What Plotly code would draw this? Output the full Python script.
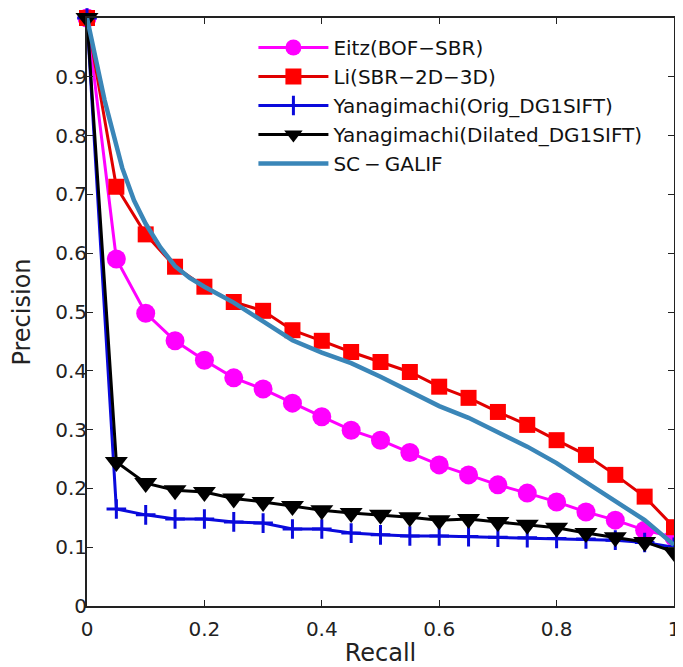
import plotly.graph_objects as go

recall = [0.0, 0.05, 0.1, 0.15, 0.2, 0.25, 0.3, 0.35, 0.4, 0.45, 0.5,
          0.55, 0.6, 0.65, 0.7, 0.75, 0.8, 0.85, 0.9, 0.95, 1.0]

eitz = [1.0, 0.590, 0.498, 0.451, 0.418, 0.388, 0.369, 0.345, 0.322, 0.299, 0.282,
        0.261, 0.240, 0.223, 0.206, 0.192, 0.177, 0.160, 0.146, 0.129, 0.117]

li = [1.0, 0.713, 0.632, 0.577, 0.543, 0.517, 0.502, 0.469, 0.451, 0.432, 0.415,
      0.398, 0.373, 0.354, 0.330, 0.308, 0.282, 0.257, 0.223, 0.186, 0.134]

yana_orig = [1.0, 0.165, 0.155, 0.148, 0.148, 0.143, 0.141, 0.131, 0.131, 0.124, 0.121,
             0.119, 0.119, 0.118, 0.117, 0.116, 0.115, 0.114, 0.112, 0.108, 0.100]

yana_dil = [1.0, 0.245, 0.209, 0.197, 0.194, 0.183, 0.177, 0.170, 0.163, 0.158, 0.155,
            0.151, 0.146, 0.148, 0.143, 0.138, 0.133, 0.124, 0.117, 0.109, 0.092]

sc_recall = [0.0, 0.03, 0.06, 0.08, 0.1, 0.125, 0.15, 0.175, 0.2, 0.25, 0.3, 0.35, 0.4, 0.45, 0.5,
             0.55, 0.6, 0.65, 0.7, 0.75, 0.8, 0.85, 0.9, 0.95, 1.0]
sc_galif = [1.0, 0.86, 0.745, 0.690, 0.650, 0.610, 0.578, 0.558, 0.543, 0.516, 0.484, 0.452,
            0.431, 0.413, 0.390, 0.366, 0.340, 0.320, 0.296, 0.271, 0.243, 0.211, 0.180, 0.146, 0.104]

x_ticks = [0, 0.2, 0.4, 0.6, 0.8, 1]
x_tick_labels = ["0", "0.2", "0.4", "0.6", "0.8", "1"]
y_ticks = [0, 0.1, 0.2, 0.3, 0.4, 0.5, 0.6, 0.7, 0.8, 0.9]
y_tick_labels = ["0", "0.1", "0.2", "0.3", "0.4", "0.5", "0.6", "0.7", "0.8", "0.9"]

FONT = "DejaVu Sans, Liberation Sans, Arial, sans-serif"

fig = go.Figure()
fig.add_trace(go.Scatter(
    x=recall, y=eitz, name="Eitz(BOF\u2212SBR)", mode="lines+markers", cliponaxis=False,
    line=dict(color="#ff00ff", width=3),
    marker=dict(symbol="circle", size=19, color="#ff00ff")))
fig.add_trace(go.Scatter(
    x=recall, y=li, name="Li(SBR\u22122D\u22123D)", mode="lines+markers", cliponaxis=False,
    line=dict(color="#e00000", width=3),
    marker=dict(symbol="square", size=16, color="#ff0000")))
fig.add_trace(go.Scatter(
    x=recall, y=yana_orig, name="Yanagimachi(Orig_DG1SIFT)", mode="lines+markers", cliponaxis=False,
    line=dict(color="#0a0adc", width=3),
    marker=dict(symbol="cross-thin", size=14, color="#0a0adc",
                line=dict(color="#0a0adc", width=3))))
fig.add_trace(go.Scatter(
    x=recall, y=yana_dil, name="Yanagimachi(Dilated_DG1SIFT)", mode="lines+markers", cliponaxis=False,
    line=dict(color="#000000", width=3),
    marker=dict(symbol="triangle-down", size=20, color="#000000")))
fig.add_trace(go.Scatter(
    x=sc_recall, y=sc_galif, name="SC\u2009\u2212\u2009GALIF", mode="lines", cliponaxis=False,
    line=dict(color="#3a86b8", width=4.5)))

fig.update_layout(
    width=675, height=659,
    margin=dict(l=79, r=9, t=10, b=61),
    paper_bgcolor="white", plot_bgcolor="white",
    font=dict(family=FONT, color="#222222", size=20),
    showlegend=True,
    legend=dict(x=0.2835, y=0.983, xanchor="left", yanchor="top",
                bgcolor="rgba(0,0,0,0)", borderwidth=0,
                font=dict(family=FONT, size=20, color="#111111"),
                itemwidth=70, tracegroupgap=0),
    xaxis=dict(range=[0, 1], tickvals=x_ticks, ticktext=x_tick_labels,
               ticks="inside", ticklen=6, tickwidth=1, tickcolor="#222222",
               showline=True, linecolor="#222222", linewidth=2, mirror="ticks",
               showgrid=False, zeroline=False, ticklabeloverflow="allow",
               ticklabelstandoff=4, automargin=False,
               title=dict(text="Recall", font=dict(size=24), standoff=6),
               tickfont=dict(size=20)),
    yaxis=dict(range=[0, 1], tickvals=y_ticks, ticktext=y_tick_labels,
               ticks="inside", ticklen=6, tickwidth=1, tickcolor="#222222",
               showline=True, linecolor="#222222", linewidth=2, mirror="ticks",
               showgrid=False, zeroline=False, ticklabelstandoff=-6, automargin=False,
               title=dict(text="Precision", font=dict(size=24), standoff=18),
               tickfont=dict(size=20)),
)

fig.write_html("out.html")
